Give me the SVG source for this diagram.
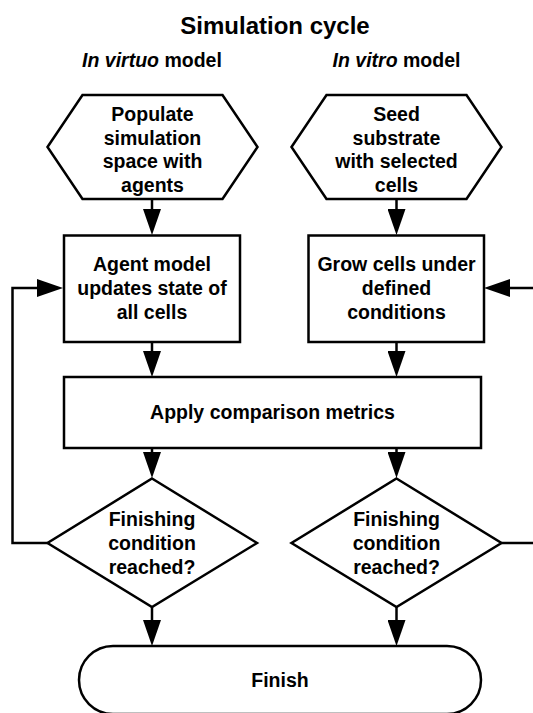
<svg xmlns="http://www.w3.org/2000/svg" width="533" height="713" viewBox="0 0 533 713">
  <style>
    .shape { fill: #ffffff; stroke: #000000; stroke-width: 2.5; stroke-linejoin: miter; }
    .conn { fill: none; stroke: #000000; stroke-width: 2.5; }
    .t { font-family: "Liberation Sans", Arial, sans-serif; font-weight: bold; font-size: 19.5px; fill: #000000; text-anchor: middle; }
    .title { font-size: 24px; }
  </style>
  <defs>
    <marker id="arrow" markerUnits="userSpaceOnUse" markerWidth="26" markerHeight="18" refX="16" refY="9" orient="auto">
      <path d="M0,0 L26,9 L0,18 Z" fill="#000000"/>
    </marker>
  </defs>
  <rect x="0" y="0" width="533" height="713" fill="#ffffff"/>

  <g id="headings">
    <text class="t title" x="275" y="34">Simulation cycle</text>
    <text class="t" x="152" y="67"><tspan font-style="italic">In virtuo</tspan> model</text>
    <text class="t" x="396.5" y="67"><tspan font-style="italic">In vitro</tspan> model</text>
  </g>

  <g id="connectors">
    <line class="conn" x1="152" y1="199" x2="152" y2="225" marker-end="url(#arrow)"/>
    <line class="conn" x1="396.5" y1="199" x2="396.5" y2="225" marker-end="url(#arrow)"/>
    <line class="conn" x1="152" y1="342" x2="152" y2="367" marker-end="url(#arrow)"/>
    <line class="conn" x1="396.5" y1="342" x2="396.5" y2="367" marker-end="url(#arrow)"/>
    <line class="conn" x1="152" y1="448" x2="152" y2="468" marker-end="url(#arrow)"/>
    <line class="conn" x1="396.5" y1="448" x2="396.5" y2="468" marker-end="url(#arrow)"/>
    <line class="conn" x1="152" y1="607" x2="152" y2="636" marker-end="url(#arrow)"/>
    <line class="conn" x1="396.5" y1="607" x2="396.5" y2="636" marker-end="url(#arrow)"/>
    <polyline class="conn" points="47.5,543 12.5,543 12.5,288 53,288" marker-end="url(#arrow)"/>
    <line class="conn" x1="501.5" y1="543" x2="535" y2="543"/>
    <line class="conn" x1="535" y1="288" x2="494" y2="288" marker-end="url(#arrow)"/>
  </g>

  <g id="populate">
    <polygon class="shape" points="47.5,147 82.5,95 222.5,95 257.5,147 222.5,199 82.5,199"/>
    <text class="t" x="152.5" y="120.5">Populate</text>
    <text class="t" x="152.5" y="144.5">simulation</text>
    <text class="t" x="152.5" y="168">space with</text>
    <text class="t" x="152.5" y="192">agents</text>
  </g>

  <g id="seed">
    <polygon class="shape" points="291.5,147 326.5,95 466.5,95 501.5,147 466.5,199 326.5,199"/>
    <text class="t" x="396.5" y="120.5">Seed</text>
    <text class="t" x="396.5" y="144.5">substrate</text>
    <text class="t" x="396.5" y="168">with selected</text>
    <text class="t" x="396.5" y="192">cells</text>
  </g>

  <g id="agent-model">
    <rect class="shape" x="64" y="235.5" width="176" height="106.5"/>
    <text class="t" x="152" y="271">Agent model</text>
    <text class="t" x="152" y="295">updates state of</text>
    <text class="t" x="152" y="318.5">all cells</text>
  </g>

  <g id="grow-cells">
    <rect class="shape" x="308.5" y="235.5" width="175.5" height="106.5"/>
    <text class="t" x="396.5" y="271">Grow cells under</text>
    <text class="t" x="396.5" y="295">defined</text>
    <text class="t" x="396.5" y="318.5">conditions</text>
  </g>

  <g id="apply">
    <rect class="shape" x="64" y="377" width="417" height="71"/>
    <text class="t" x="272.5" y="419">Apply comparison metrics</text>
  </g>

  <g id="finish-left">
    <polygon class="shape" points="152,478.5 257,543 152,607 47.5,543"/>
    <text class="t" x="152" y="526">Finishing</text>
    <text class="t" x="152" y="550">condition</text>
    <text class="t" x="152" y="574">reached?</text>
  </g>

  <g id="finish-right">
    <polygon class="shape" points="396.5,478.5 501.5,543 396.5,607 291.5,543"/>
    <text class="t" x="396.5" y="526">Finishing</text>
    <text class="t" x="396.5" y="550">condition</text>
    <text class="t" x="396.5" y="574">reached?</text>
  </g>

  <g id="finish">
    <rect class="shape" x="79" y="646" width="402" height="68" rx="34" ry="34"/>
    <text class="t" x="280" y="687">Finish</text>
  </g>
</svg>
